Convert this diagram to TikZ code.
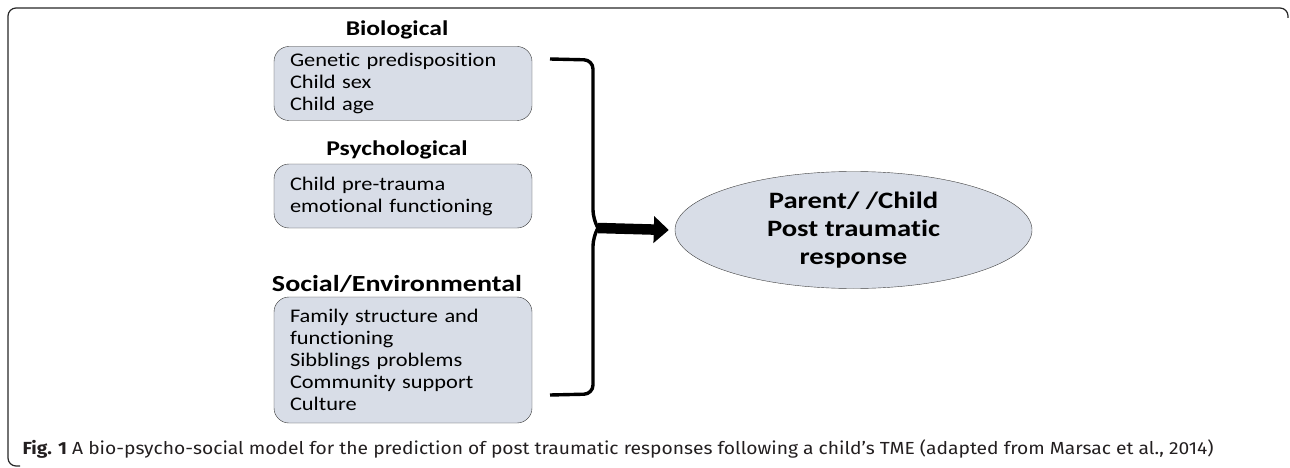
\documentclass[tikz,border=0pt]{standalone}
\usepackage{fontspec}
\setmainfont[Ligatures=NoCommon]{Carlito}
\newfontfamily\capfont{Fira Sans}
\usepackage{tikz}
\usetikzlibrary{arrows.meta}
\usetikzlibrary{positioning,shapes.geometric}
\definecolor{boxfill}{RGB}{216,221,231}
\definecolor{capgray}{RGB}{35,31,32}
\newfontfamily\wideface[Ligatures=NoCommon, FakeStretch=1.16]{Carlito}
\newfontfamily\widerface[Ligatures=NoCommon, FakeStretch=1.22]{Carlito}
\newfontfamily\widecap[FakeStretch=1.1]{Fira Sans}
\tikzset{
    factor/.style={
        draw=black!80,
        fill=boxfill,
        rounded corners=15pt,
        minimum width=258pt,
        inner xsep=16pt,
        text width=226pt,
        align=left,
        font=\wideface\fontsize{19.3}{22}\selectfont
    },
    heading/.style={
        font=\widerface\fontsize{21}{24}\selectfont\bfseries
    },
    brace/.style={
        draw,
        line width=3.4pt,
        rounded corners=9pt
    },
    bigarrow/.style={
        draw,
        line width=10.5pt,
        -{Triangle[length=15pt, width=26pt]}
    }
}

\begin{document}
\begin{tikzpicture}[x=1pt, y=-1pt]
    \useasboundingbox (0,0) rectangle (1290,468);
    % Frame
    \draw[line width=1.2pt, black!85, rounded corners=8pt]
        (20,466) -- (8,466) -- (8,8) -- (1288,8) -- (1288,18);

    % Boxes
    \node[factor, minimum height=74pt] (bio) at (403,83.5)
        {Genetic predisposition\\Child sex\\Child age};
    \node[factor, minimum height=64pt] (psy) at (403,196)
        {Child pre-trauma\\emotional functioning};
    \node[factor, minimum height=126pt] (soc) at (403,360)
        {Family structure and\\functioning\\Sibblings problems\\Community support\\Culture};

    % Headings
    \node[heading] (biot) at (397,30) {Biological};
    \node[heading] (psyt) at (397,150) {Psychological};
    \node[heading, font=\widerface\fontsize{23}{26}\selectfont\bfseries] (soct) at (397,284) {Social/Environmental};

    % Outcome
    \node[ellipse, draw=black!75, fill=boxfill, minimum width=357pt,
          minimum height=117pt, align=center, inner sep=0pt,
          font=\widerface\fontsize{23.5}{28}\selectfont\bfseries] (resp) at (853.5,230)
        {Parent/ /Child\\Post traumatic\\response};

    % Brace
    \coordinate (bt) at (550,59);
    \coordinate (bb) at (550,395);
    \coordinate (bm) at (598,228);
    \draw[brace] (bt) -- (593,60) -- (593,219) -- (bm);
    \draw[brace] (bm) -- (593,237) -- (593,394) -- (bb);

    % Edges
    \draw[bigarrow] (bm) -- ([xshift=-6pt]resp.west);

    % Caption
    \node[anchor=west, text=capgray, font=\widecap\fontsize{17.5}{20}\selectfont] (cap) at (19,449)
        {\textbf{Fig. 1} A bio-psycho-social model for the prediction of post traumatic responses following a child’s TME (adapted from Marsac et al., 2014)};
\end{tikzpicture}
\end{document}
